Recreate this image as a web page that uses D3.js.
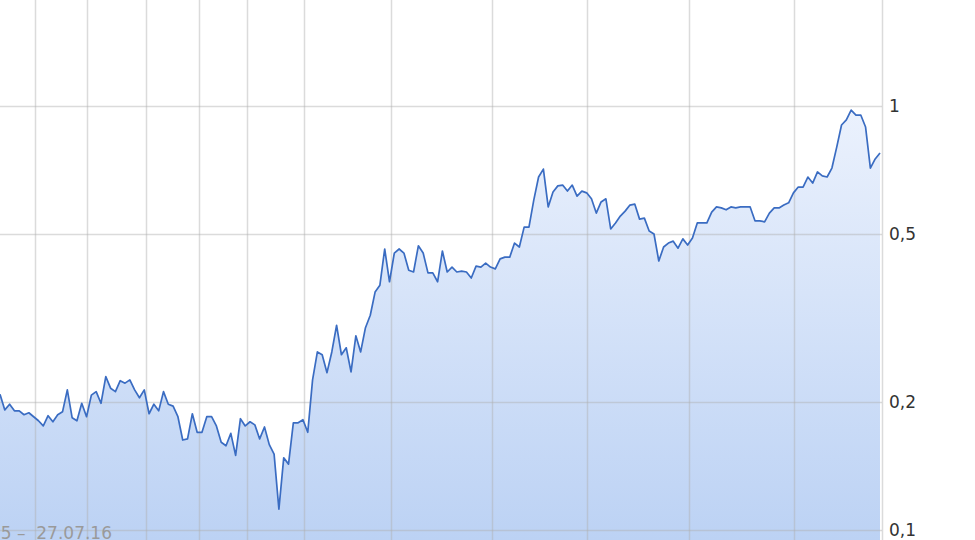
<!DOCTYPE html>
<html><head><meta charset="utf-8">
<script src="https://cdn.jsdelivr.net/npm/d3@7"></script>
<style>html,body{margin:0;padding:0;background:#fff;overflow:hidden}</style>
</head><body>
<script>
// Price series (log scale), one value per trading step
const values = [
0.209,0.192,0.198,0.191,0.191,0.187,0.189,0.185,0.181,0.176,
0.186,0.180,0.187,0.190,0.214,0.184,0.181,0.199,0.185,0.208,
0.212,0.199,0.230,0.216,0.212,0.225,0.222,0.226,0.214,0.205,
0.214,0.188,0.198,0.191,0.212,0.198,0.196,0.185,0.163,0.164,
0.188,0.170,0.170,0.185,0.185,0.176,0.161,0.158,0.169,0.150,
0.183,0.176,0.180,0.177,0.164,0.175,0.159,0.151,0.112,0.148,
0.143,0.179,0.179,0.182,0.170,0.226,0.263,0.259,0.235,0.263,
0.304,0.259,0.269,0.236,0.287,0.263,0.300,0.321,0.364,0.378,
0.460,0.385,0.450,0.460,0.450,0.410,0.406,0.468,0.450,0.404,
0.404,0.385,0.455,0.406,0.417,0.406,0.408,0.406,0.393,0.419,
0.417,0.426,0.417,0.413,0.436,0.440,0.440,0.475,0.465,0.518,
0.518,0.600,0.680,0.710,0.578,0.627,0.648,0.651,0.630,0.651,
0.613,0.630,0.624,0.604,0.559,0.594,0.604,0.513,0.530,0.550,
0.565,0.584,0.587,0.541,0.544,0.507,0.499,0.431,0.465,0.475,
0.480,0.462,0.486,0.470,0.488,0.530,0.530,0.530,0.562,0.578,
0.575,0.569,0.578,0.575,0.578,0.578,0.578,0.536,0.536,0.533,
0.559,0.575,0.575,0.584,0.591,0.624,0.644,0.644,0.680,0.658,
0.699,0.684,0.680,0.714,0.800,0.902,0.927,0.978,0.952,0.952,
0.892,0.714,0.750,0.775
];
// y-axis ticks
const yTicks = [1, 0.5, 0.2, 0.1];
const yTickLabels = ["1", "0,5", "0,2", "0,1"];
// vertical grid positions (in series step units)
const xGrid = [7.28, 18.09, 30.36, 41.38, 51.36, 63.21, 81.3, 102.3, 122.06, 143.27, 165.1];
const rangeLabel = "27.07.15 \u2013  27.07.16";

const W = 975, H = 540;
const plotRight = 882;
const FONT = "'DejaVu Sans', Verdana, sans-serif";
const svg = d3.select("body").append("svg").attr("width", W).attr("height", H)
  .style("font-family", FONT);

const x = d3.scaleLinear().domain([0, values.length - 1]).range([0, 880]);
const y = d3.scaleLog().domain([0.1, 1]).range([530, 106]);

const defs = svg.append("defs");
const grad = defs.append("linearGradient").attr("id", "fillGrad")
  .attr("gradientUnits", "userSpaceOnUse").attr("x1", 0).attr("x2", 0).attr("y1", 100).attr("y2", 540);
grad.append("stop").attr("offset", 0).attr("stop-color", "#ecf2fd");
grad.append("stop").attr("offset", 1).attr("stop-color", "#bcd2f4");

// area
const area = d3.area().x((d, i) => x(i)).y0(H + 5).y1(d => y(d));
svg.append("path").datum(values).attr("d", area).attr("fill", "url(#fillGrad)");

// grid
const grid = svg.append("g").attr("stroke", "#b0b0b0").attr("stroke-opacity", 0.45).attr("stroke-width", 1.5);
grid.selectAll("line.v").data(xGrid).join("line")
  .attr("x1", d => Math.round(x(d)) + 0.5).attr("x2", d => Math.round(x(d)) + 0.5)
  .attr("y1", 0).attr("y2", H);
grid.selectAll("line.h").data(yTicks).join("line")
  .attr("x1", 0).attr("x2", plotRight)
  .attr("y1", d => Math.round(y(d)) + 0.5).attr("y2", d => Math.round(y(d)) + 0.5);
grid.append("line").attr("x1", plotRight + 0.5).attr("x2", plotRight + 0.5).attr("y1", 0).attr("y2", H);

// line
const line = d3.line().x((d, i) => x(i)).y(d => y(d));
svg.append("path").datum(values).attr("d", line)
  .attr("fill", "none").attr("stroke", "#3a6cc2").attr("stroke-width", 1.7).attr("stroke-linejoin", "round");

// y axis labels
const yAxis = d3.axisRight(y).tickValues(yTicks).tickFormat((d, i) => yTickLabels[i]).tickSize(0).tickPadding(0);
const ga = svg.append("g").attr("transform", `translate(889,0)`).call(yAxis);
ga.select(".domain").remove();
ga.selectAll("text").attr("font-size", 17).attr("fill", "#333").attr("font-family", FONT);

// date range label
svg.append("text").attr("x", 112).attr("y", 539).attr("text-anchor", "end")
  .attr("font-size", 17).attr("fill", "#9a9a9a").attr("xml:space", "preserve").text(rangeLabel);
</script>
</body></html>
